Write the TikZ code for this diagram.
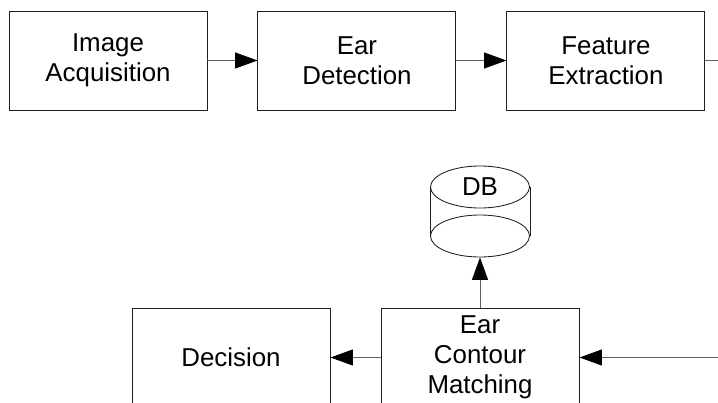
\documentclass[tikz,border=0pt]{standalone}
\usepackage{fontspec}
\setmainfont{Liberation Sans}
\usetikzlibrary{arrows.meta,positioning,shapes.geometric}
\definecolor{eddark}{RGB}{30,30,30}
\definecolor{edgris}{RGB}{95,95,95}

\begin{document}
\begin{tikzpicture}[
  stage/.style={rectangle, draw=eddark, line width=0.7pt, minimum width=4.95cm,
    minimum height=2.475cm, align=center, inner sep=0pt,
    font=\fontsize{18.4}{21.5}\selectfont},
  dbdisc/.style={ellipse, draw=eddark, line width=0.6pt, minimum width=2.475cm,
    minimum height=1.05cm, inner sep=0pt, font=\fontsize{18.4}{21.5}\selectfont},
  flow/.style={-{Triangle[length=0.56cm,width=0.4cm,color=black]}, line width=0.7pt, edgris},
  node distance=1.25cm
]
  \useasboundingbox (0,0) rectangle (17.95,-10.075);
  \clip (0,0) rectangle (17.95,-10.075);
  \coordinate (rim) at (17.95,0);

  % top row
  \node[stage] (acq) at (2.7,-1.5125) {Image\\Acquisition};
  \node[stage, right=of acq] (det) {Ear\\Detection};
  \node[stage, right=of det] (featx) {Feature\\Extraction};

  \draw[flow] (acq) -- (det);
  \draw[flow] (det) -- (featx);
  \draw[edgris, line width=0.7pt] (featx.east) -- (featx.east -| rim);

  % matching and decision
  \node[stage] (ecm) at (12,-8.9375) {Ear\\Contour\\Matching};
  \node[stage, left=of ecm] (dec) {Decision};

  % DB
  \node[dbdisc] (dbtop) at (12,-4.675) {DB};
  \node[dbdisc] (db) at (12,-5.9) {};
  \draw[eddark, line width=0.6pt] (dbtop.west) -- (db.west);
  \draw[eddark, line width=0.6pt] (dbtop.east) -- (db.east);

  \draw[flow] (ecm.east -| rim) -- (ecm.east);
  \draw[flow] (ecm) -- (dec);
  \draw[flow] (ecm.north) -- (db.south);
\end{tikzpicture}
\end{document}
